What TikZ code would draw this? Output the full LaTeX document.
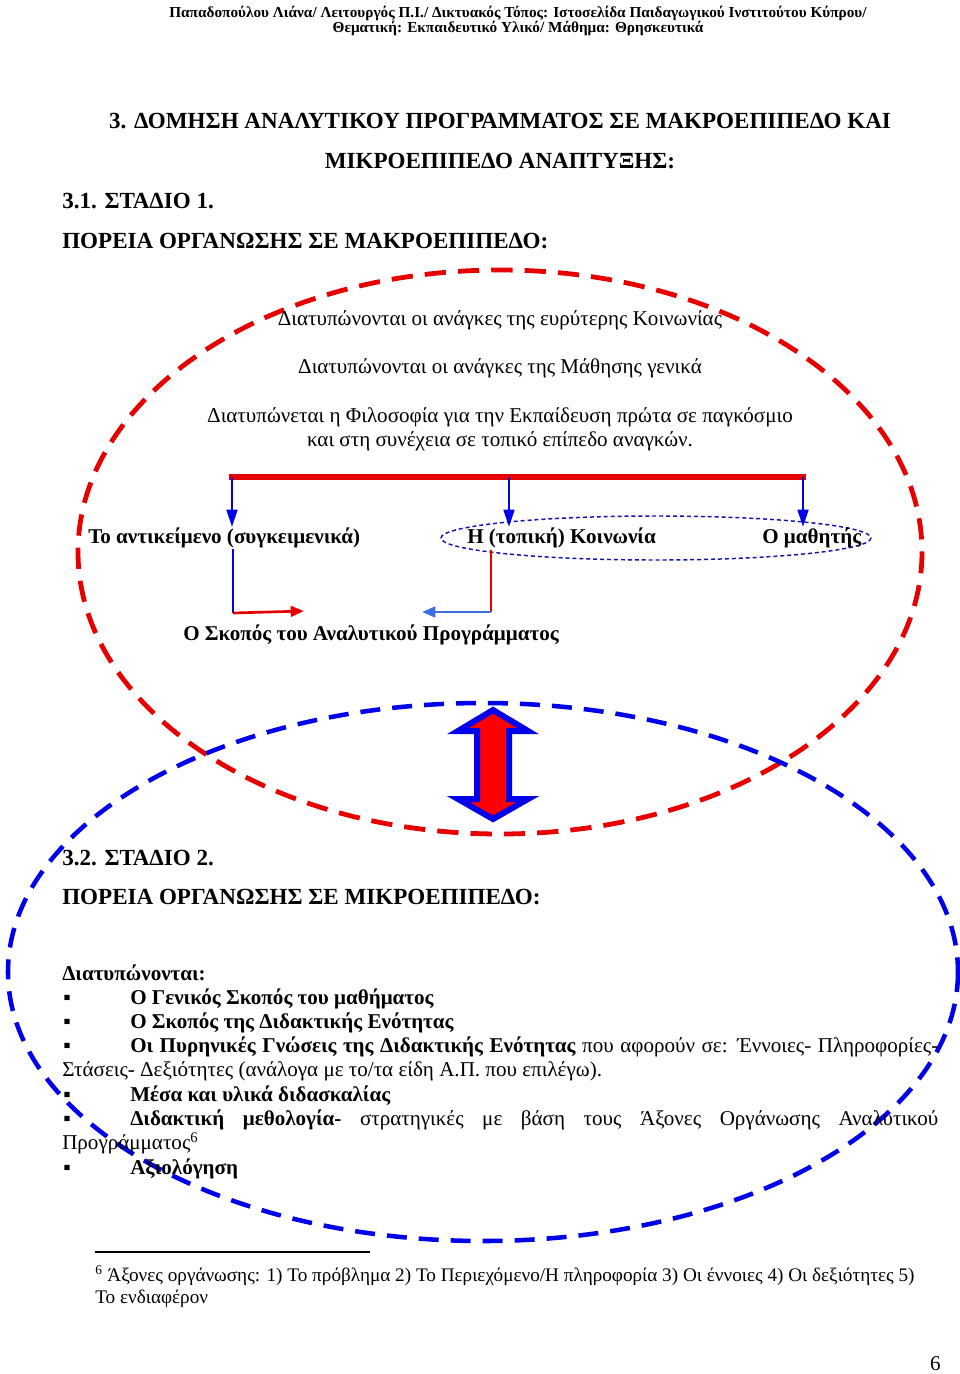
\documentclass[tikz,border=0pt]{standalone}
\usepackage{fontspec}
\setmainfont{Liberation Serif}
\usetikzlibrary{arrows.meta}
\definecolor{myred}{RGB}{230,0,0}
\definecolor{myblue}{RGB}{0,0,235}
\definecolor{royal}{RGB}{60,110,225}
\definecolor{navy}{RGB}{20,20,170}
\begin{document}
\begin{tikzpicture}[x=0.75pt,y=-0.75pt,
  tx/.style={inner sep=0pt,anchor=base west,font=\fontsize{15.8}{18}\selectfont},
  tb/.style={tx,font=\fontsize{15.8}{18}\selectfont\bfseries},
  th/.style={tx,font=\fontsize{17.3}{20}\selectfont\bfseries},
  tc/.style={inner sep=0pt,anchor=base,font=\fontsize{15.8}{18}\selectfont},
  hd/.style={inner sep=0pt,anchor=base,font=\fontsize{11.45}{14}\selectfont\bfseries},
  fn/.style={inner sep=0pt,anchor=base west,font=\fontsize{14.4}{16}\selectfont},
  redell/.style={draw=myred,line width=3.6pt,dash pattern=on 16pt off 9pt},
  blueell/.style={draw=myblue,line width=3.4pt,dash pattern=on 15pt off 9pt},
  dotell/.style={draw=navy,line width=1.1pt,dash pattern=on 3pt off 2.2pt},
  downarr/.style={draw=myblue,line width=2pt,-{Triangle[length=13pt,width=8pt]}},
  redarr/.style={draw=myred,line width=2pt,-{Triangle[length=10pt,width=8pt]}},
  royarr/.style={draw=royal,line width=2pt,-{Triangle[length=10pt,width=8pt]}},
]
\useasboundingbox (0,0) rectangle (960,1374);

% header
\node[hd] (h1) at (518,17) {Παπαδοπούλου Λιάνα/ Λειτουργός Π.Ι./ Δικτυακός Τόπος: Ιστοσελίδα Παιδαγωγικού Ινστιτούτου Κύπρου/};
\node[hd] (h2) at (518,32) {Θεματική: Εκπαιδευτικό Υλικό/ Μάθημα: Θρησκευτικά};

% headings
\node[th,anchor=base] (t1) at (500,128) {3. ΔΟΜΗΣΗ ΑΝΑΛΥΤΙΚΟΥ ΠΡΟΓΡΑΜΜΑΤΟΣ ΣΕ ΜΑΚΡΟΕΠΙΠΕΔΟ ΚΑΙ};
\node[th,anchor=base] (t2) at (500,168) {ΜΙΚΡΟΕΠΙΠΕΔΟ ΑΝΑΠΤΥΞΗΣ:};
\node[th] (s1) at (62,208) {3.1. ΣΤΑΔΙΟ 1.};
\node[th] (p1) at (62,248) {ΠΟΡΕΙΑ ΟΡΓΑΝΩΣΗΣ ΣΕ ΜΑΚΡΟΕΠΙΠΕΔΟ:};

% red ellipse
\draw[redell] (500,552) ellipse [x radius=422, y radius=282];

\node[tc] (u1) at (500,325) {Διατυπώνονται οι ανάγκες της ευρύτερης Κοινωνίας};
\node[tc] (u2) at (500,373) {Διατυπώνονται οι ανάγκες της Μάθησης γενικά};
\node[tc] (u3) at (500,422) {Διατυπώνεται η Φιλοσοφία για την Εκπαίδευση πρώτα σε παγκόσμιο};
\node[tc] (u4) at (500,446) {και στη συνέχεια σε τοπικό επίπεδο αναγκών.};

% dotted ellipse
\draw[dotell] (656,538) ellipse [x radius=215, y radius=22];

\node[tb] (obj) at (88,543) {Το αντικείμενο (συγκειμενικά)};
\node[tb] (soc) at (467,543) {Η (τοπική) Κοινωνία};
\node[tb] (stu) at (762,543) {Ο μαθητής};
\node[tb] (aim) at (183,640) {Ο Σκοπός του Αναλυτικού Προγράμματος};

\coordinate (b1) at (232,477);
\coordinate (b2) at (509,477);
\coordinate (b3) at (803,477);
\coordinate (a1) at (232,527);
\coordinate (a2) at (509,527);
\coordinate (a3) at (803,527);
\draw[myred,line width=3.8pt] (229,477) -- (806,477);
\draw[downarr] (b1) -- (a1);
\draw[downarr] (b2) -- (a2);
\draw[downarr] (b3) -- (a3);

\coordinate (l1) at (233,549);
\coordinate (l2) at (233,613);
\coordinate (l3) at (304,611);
\coordinate (r1) at (491,550);
\coordinate (r2) at (491,612);
\coordinate (r3) at (422,612);
\draw[myblue,line width=2pt] (l1) -- (l2);
\draw[redarr] (l2) -- (l3);
\draw[myred,line width=2pt] (r1) -- (r2);
\draw[royarr] (r2) -- (r3);

% double arrow
\draw[fill=red,draw=myblue,line width=4.5pt,line join=miter]
  (493,710) -- (528,731) -- (509,731) -- (509,799) -- (528,799) -- (493,819)
  -- (458,799) -- (477,799) -- (477,731) -- (458,731) -- cycle;

% blue ellipse
\draw[blueell] (483,972) ellipse [x radius=475, y radius=269];

\node[th] (s2) at (62,865) {3.2. ΣΤΑΔΙΟ 2.};
\node[th] (p2) at (62,904) {ΠΟΡΕΙΑ ΟΡΓΑΝΩΣΗΣ ΣΕ ΜΙΚΡΟΕΠΙΠΕΔΟ:};
\node[tb] (dt) at (62,980) {Διατυπώνονται:};

\foreach \yy/\nm in {1004/k1,1028/k2,1052/k3,1101/k4,1125/k5,1174/k6}
  \node[tx] (\nm) at (63,\yy) {▪};

\node[tb] (i1) at (130,1004) {Ο Γενικός Σκοπός του μαθήματος};
\node[tb] (i2) at (130,1028) {Ο Σκοπός της Διδακτικής Ενότητας};
\node[tx] (i3) at (130,1052) {\makebox[606pt][s]{\bfseries Οι Πυρηνικές Γνώσεις της Διδακτικής Ενότητας\mdseries{} που αφορούν σε: Έννοιες- Πληροφορίες-}};
\node[tx] (i3b) at (62,1076) {Στάσεις- Δεξιότητες (ανάλογα με το/τα είδη Α.Π. που επιλέγω).};
\node[tb] (i4) at (130,1101) {Μέσα και υλικά διδασκαλίας};
\node[tx] (i5) at (130,1125) {\makebox[606pt][s]{\bfseries Διδακτική μεθολογία-\mdseries{} στρατηγικές με βάση τους Άξονες Οργάνωσης Αναλυτικού}};
\node[tx] (i5b) at (62,1149) {Προγράμματος\textsuperscript{6}};
\node[tb] (i6) at (130,1174) {Αξιολόγηση};

% footnote
\coordinate (f1) at (95,1252);
\coordinate (f2) at (370,1252);
\draw[line width=0.9pt] (f1) -- (f2);
\node[fn] (fa) at (95,1281) {\textsuperscript{6} Άξονες οργάνωσης: 1) Το πρόβλημα 2) Το Περιεχόμενο/Η πληροφορία 3) Οι έννοιες 4) Οι δεξιότητες 5)};
\node[fn] (fb) at (95,1303) {Το ενδιαφέρον};
\node[inner sep=0pt,anchor=base east,font=\fontsize{15.8}{18}\selectfont] (pg) at (941,1370) {6};
\end{tikzpicture}
\end{document}
